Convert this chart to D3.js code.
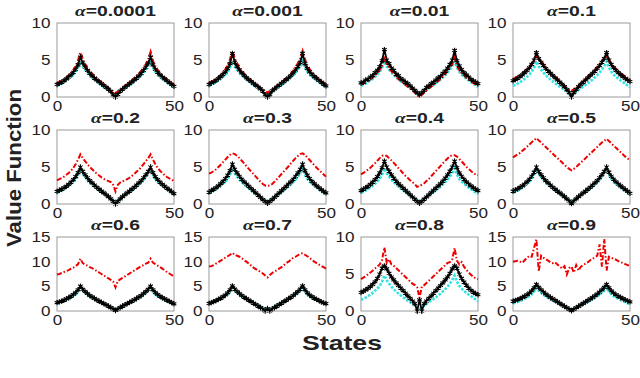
<!DOCTYPE html>
<html><head><meta charset="utf-8">
<script src="https://cdn.jsdelivr.net/npm/d3@7"></script>
<style>body{margin:0;background:#fff}</style>
</head><body>
<svg id="c" width="640" height="378"></svg>
<script>
const states = [0,1,2,3,4,5,6,7,8,9,10,11,12,13,14,15,16,17,18,19,20,21,22,23,24,25,26,27,28,29,30,31,32,33,34,35,36,37,38,39,40,41,42,43,44,45,46,47,48,49,50];
const alphas = ["0.0001","0.001","0.01","0.1","0.2","0.3","0.4","0.5","0.6","0.7","0.8","0.9"];
const yMaxes = [10,10,10,10,10,10,10,10,15,15,10,15];
const xTicks = [0,50];
const yTicks10 = [0,5,10];
const yTicks15 = [0,5,10,15];

const trueV = [1.50,1.65,1.82,2.00,2.22,2.46,2.73,3.04,3.40,3.95,
 4.80,4.15,3.70,3.30,2.95,2.65,2.35,2.10,1.85,1.62,
 1.40,1.18,0.95,0.70,0.45,0.30,0.45,0.70,0.95,1.18,
 1.40,1.62,1.85,2.10,2.35,2.65,2.95,3.30,3.70,4.15,
 4.80,3.95,3.40,3.04,2.73,2.46,2.22,2.00,1.80,1.55,1.30];

const black0001 = [1.70,1.85,2.00,2.20,2.45,2.70,3.00,3.35,3.75,4.35,
 5.40,4.60,4.05,3.60,3.20,2.85,2.55,2.30,2.05,1.80,
 1.55,1.30,1.05,0.75,0.30,0.00,0.35,0.80,1.05,1.30,
 1.55,1.80,2.05,2.30,2.55,2.85,3.20,3.60,4.05,4.60,
 5.40,4.35,3.75,3.35,3.00,2.70,2.45,2.20,1.95,1.70,1.45];
const red0001 = [1.80,2.00,2.15,2.35,2.60,2.90,3.20,3.60,4.10,4.80,
 6.00,5.00,4.40,3.90,3.45,3.10,2.80,2.50,2.20,1.95,
 1.70,1.45,1.20,0.95,0.70,0.50,0.70,0.95,1.20,1.45,
 1.70,1.95,2.20,2.50,2.80,3.10,3.45,3.90,4.40,5.00,
 6.00,4.80,4.10,3.60,3.20,2.90,2.60,2.35,2.10,1.85,1.60];

const black001 = [1.70,1.90,2.05,2.25,2.50,2.75,3.05,3.40,3.85,4.50,
 5.90,4.70,4.10,3.65,3.25,2.90,2.60,2.35,2.10,1.85,
 1.60,1.35,1.10,0.80,0.30,0.00,0.30,0.85,1.10,1.35,
 1.60,1.85,2.10,2.35,2.60,2.90,3.25,3.65,4.10,4.70,
 5.90,4.50,3.85,3.40,3.05,2.75,2.50,2.25,2.00,1.75,1.50];
const red001 = [1.80,2.00,2.20,2.40,2.65,2.95,3.30,3.70,4.20,5.00,
 6.10,5.10,4.50,3.95,3.50,3.10,2.80,2.50,2.20,1.95,
 1.70,1.45,1.20,0.95,0.75,0.60,0.75,0.95,1.20,1.45,
 1.70,1.95,2.20,2.50,2.80,3.10,3.50,3.95,4.50,5.10,
 6.10,5.00,4.20,3.70,3.30,2.95,2.65,2.40,2.15,1.90,1.65];

const black01 = [1.90,2.00,2.30,2.40,2.70,2.90,3.30,3.60,4.10,4.90,
 6.40,5.00,4.50,3.90,3.60,3.10,2.90,2.50,2.30,2.00,
 1.80,1.50,1.20,0.90,0.60,0.30,0.60,0.90,1.30,1.50,
 1.80,2.00,2.30,2.60,2.80,3.20,3.50,3.90,4.40,5.00,
 6.30,4.90,4.20,3.70,3.30,3.00,2.70,2.40,2.20,2.00,1.80];
const red01 = [1.70,1.85,2.00,2.20,2.40,2.65,2.95,3.30,3.70,4.30,
 5.50,4.50,4.00,3.55,3.15,2.80,2.50,2.20,1.95,1.70,
 1.45,1.20,0.95,0.65,0.35,0.05,0.35,0.65,0.95,1.20,
 1.45,1.70,1.95,2.20,2.50,2.80,3.15,3.55,4.00,4.50,
 5.50,4.30,3.70,3.30,2.95,2.65,2.40,2.20,1.95,1.75,1.55];

const black1 = [2.20,2.35,2.55,2.75,3.00,3.30,3.60,3.95,4.40,5.00,
 6.00,5.20,4.70,4.25,3.85,3.50,3.20,2.90,2.60,2.30,
 2.00,1.70,1.40,1.00,0.60,0.00,0.60,1.00,1.40,1.70,
 2.00,2.30,2.60,2.90,3.20,3.50,3.85,4.25,4.70,5.20,
 6.00,5.00,4.40,3.95,3.60,3.30,3.00,2.75,2.50,2.30,2.10];
const red1 = [2.40,2.55,2.75,2.95,3.20,3.45,3.75,4.10,4.50,5.00,
 5.60,5.20,4.80,4.40,4.00,3.60,3.30,3.00,2.70,2.40,
 2.10,1.80,1.50,1.20,0.95,0.80,1.00,1.25,1.50,1.80,
 2.10,2.40,2.70,3.00,3.30,3.60,4.00,4.40,4.80,5.20,
 5.60,5.00,4.50,4.10,3.75,3.45,3.20,2.95,2.70,2.50,2.30];

const black2 = [1.70,1.85,2.00,2.20,2.40,2.65,2.95,3.30,3.70,4.25,
 5.00,4.40,3.95,3.55,3.15,2.85,2.55,2.25,2.00,1.75,
 1.50,1.25,1.00,0.70,0.35,0.00,0.35,0.70,1.00,1.25,
 1.50,1.75,2.00,2.25,2.55,2.85,3.15,3.55,3.95,4.40,
 5.00,4.25,3.70,3.30,2.95,2.65,2.40,2.15,1.90,1.65,1.40];
const red2 = [3.20,3.35,3.50,3.70,3.95,4.20,4.50,4.90,5.40,6.00,
 6.70,6.20,5.80,5.40,5.00,4.70,4.40,4.10,3.85,3.60,
 3.40,3.25,3.10,2.95,2.60,1.70,2.60,2.90,3.05,3.20,
 3.35,3.55,3.80,4.05,4.35,4.65,5.00,5.40,5.80,6.20,
 6.70,6.00,5.40,4.90,4.50,4.20,3.90,3.65,3.45,3.30,3.10];

const black3 = [1.60,1.80,2.00,2.20,2.45,2.75,3.05,3.45,3.90,4.50,
 5.40,4.70,4.20,3.75,3.35,3.00,2.70,2.40,2.10,1.80,
 1.50,1.20,0.90,0.60,0.35,0.10,0.35,0.60,0.90,1.20,
 1.50,1.80,2.10,2.40,2.70,3.00,3.35,3.75,4.20,4.70,
 5.40,4.50,3.90,3.45,3.05,2.75,2.45,2.20,1.95,1.70,1.50];
const red3 = [4.10,4.25,4.45,4.70,5.00,5.30,5.65,6.00,6.35,6.65,
 6.85,6.75,6.50,6.20,5.85,5.50,5.10,4.75,4.40,4.05,
 3.70,3.35,3.00,2.70,2.50,2.45,2.50,2.70,3.00,3.35,
 3.70,4.05,4.40,4.75,5.10,5.50,5.85,6.20,6.50,6.75,
 6.85,6.65,6.30,5.95,5.60,5.25,4.90,4.60,4.30,4.00,3.70];

const black4 = [1.80,2.00,2.20,2.40,2.65,2.95,3.30,3.70,4.20,4.90,
 5.80,5.00,4.45,3.95,3.50,3.10,2.75,2.45,2.15,1.85,
 1.55,1.25,0.95,0.65,0.35,0.10,0.35,0.65,0.95,1.25,
 1.55,1.85,2.15,2.45,2.75,3.10,3.50,3.95,4.45,5.00,
 5.80,4.90,4.20,3.75,3.35,3.00,2.70,2.45,2.20,2.00,1.80];
const red4 = [4.00,4.20,4.40,4.65,4.90,5.20,5.50,5.85,6.20,6.50,
 6.60,6.50,6.20,5.90,5.55,5.20,4.85,4.50,4.15,3.80,
 3.50,3.20,2.95,2.70,2.30,2.50,2.60,2.80,3.10,3.40,
 3.75,4.10,4.45,4.80,5.15,5.50,5.85,6.15,6.45,6.60,
 6.60,6.40,6.10,5.75,5.40,5.05,4.75,4.45,4.20,4.00,3.90];

const black5 = [1.75,1.90,2.05,2.25,2.45,2.70,3.00,3.35,3.75,4.30,
 5.00,4.40,3.95,3.55,3.15,2.85,2.55,2.25,2.00,1.75,
 1.50,1.25,1.00,0.70,0.40,0.05,0.40,0.70,1.00,1.25,
 1.50,1.75,2.00,2.25,2.55,2.85,3.15,3.55,3.95,4.40,
 5.00,4.30,3.75,3.35,3.00,2.70,2.45,2.20,1.95,1.70,1.45];
const red5 = [6.30,6.50,6.70,6.90,7.20,7.45,7.75,8.05,8.35,8.60,
 8.90,8.60,8.30,8.00,7.70,7.40,7.10,6.80,6.50,6.20,
 5.90,5.60,5.30,5.00,4.75,4.55,4.75,5.00,5.30,5.60,
 5.90,6.20,6.50,6.80,7.10,7.40,7.70,8.00,8.30,8.55,
 8.80,8.50,8.20,7.90,7.60,7.30,7.00,6.70,6.40,6.15,5.90];

const black6 = [1.70,1.85,2.00,2.20,2.45,2.70,3.00,3.35,3.75,4.30,
 5.05,4.40,3.95,3.55,3.15,2.85,2.55,2.25,2.00,1.75,
 1.50,1.25,1.00,0.70,0.40,0.10,0.40,0.70,1.00,1.25,
 1.50,1.75,2.00,2.25,2.55,2.85,3.15,3.55,3.95,4.40,
 5.05,4.30,3.75,3.35,3.00,2.70,2.45,2.20,1.95,1.70,1.45];
const red6 = [7.40,7.50,7.70,7.90,8.10,8.30,8.60,8.80,9.10,9.50,
 10.60,9.70,9.40,9.20,8.90,8.70,8.40,8.10,7.80,7.50,
 7.20,6.90,6.60,6.30,6.00,4.80,6.10,6.40,6.70,7.00,
 7.30,7.60,7.90,8.20,8.50,8.80,9.10,9.30,9.60,9.80,
 10.60,9.80,9.50,9.20,8.90,8.60,8.20,7.90,7.60,7.30,7.00];

const black7 = [1.55,1.70,1.90,2.10,2.35,2.60,2.90,3.25,3.70,4.30,
 5.10,4.45,3.95,3.55,3.15,2.80,2.50,2.20,1.90,1.60,
 1.30,1.00,0.70,0.40,0.00,0.50,0.00,0.40,0.70,1.00,
 1.30,1.60,1.90,2.20,2.50,2.80,3.15,3.55,3.95,4.45,
 5.10,4.30,3.70,3.25,2.90,2.60,2.35,2.10,1.85,1.65,1.50];
const red7 = [9.00,9.10,9.30,9.60,9.90,10.20,10.50,10.80,11.10,11.40,
 11.80,11.40,11.20,11.00,10.70,10.30,10.00,9.60,9.20,8.80,
 8.50,8.20,7.90,7.60,7.20,6.80,7.30,7.70,8.00,8.30,
 8.60,8.90,9.30,9.70,10.00,10.40,10.80,11.00,11.30,11.60,
 11.70,11.40,11.10,10.80,10.40,10.00,9.70,9.40,9.10,8.90,8.60];

const black8 = [2.50,2.65,2.85,3.05,3.30,3.60,3.95,4.40,5.00,5.80,
 6.10,5.70,5.10,4.60,4.20,3.80,3.45,3.10,2.75,2.40,
 2.05,1.70,1.35,1.00,0.00,1.50,0.00,1.00,1.35,1.70,
 2.05,2.40,2.75,3.10,3.45,3.80,4.20,4.60,5.10,5.70,
 6.10,5.80,5.00,4.40,3.90,3.50,3.10,2.80,2.55,2.35,2.20];
const red8 = [4.30,4.50,4.70,4.95,5.20,5.45,5.75,6.00,6.30,6.90,
 8.60,6.50,7.00,6.30,6.10,5.80,5.50,5.20,4.90,4.60,
 4.30,4.00,3.70,3.50,3.20,1.80,3.30,3.50,3.80,4.10,
 4.40,4.70,5.00,5.30,5.60,5.90,6.20,6.50,6.60,7.00,
 8.50,6.80,6.30,6.60,6.00,5.60,5.20,4.90,4.60,4.40,4.30];

const black9 = [2.00,2.15,2.30,2.50,2.75,3.00,3.30,3.65,4.10,4.70,
 5.40,4.80,4.30,3.85,3.45,3.10,2.75,2.45,2.15,1.85,
 1.55,1.25,0.95,0.65,0.35,0.05,0.35,0.65,0.95,1.25,
 1.55,1.85,2.15,2.45,2.75,3.10,3.45,3.85,4.30,4.80,
 5.40,4.70,4.10,3.65,3.30,3.00,2.75,2.50,2.25,2.05,1.85];
const red9 = [10.00,10.10,10.20,10.00,9.80,10.30,10.80,11.20,11.00,12.80,
 14.50,8.00,11.20,10.80,10.50,10.20,9.90,9.70,9.90,9.40,
 9.00,8.60,9.10,7.40,8.70,9.00,7.80,9.30,8.20,9.00,
 9.30,9.60,9.90,10.30,10.60,10.90,11.20,13.50,9.00,14.60,
 8.20,11.00,10.80,10.60,10.40,10.10,9.90,9.70,9.50,9.30,9.10];

const blackSeries = [black0001,black001,black01,black1,black2,black3,black4,black5,black6,black7,black8,black9];
const redSeries = [red0001,red001,red01,red1,red2,red3,red4,red5,red6,red7,red8,red9];

// layout
const colLeft = [57, 209, 361, 513];
const rowTop = [23, 130, 237];
const W = 117, H = 74;
const FONT = "'Liberation Sans', Arial, Helvetica, sans-serif";
const TXT = "#222";

const svg = d3.select("#c");

alphas.forEach((a, i) => {
  const r = Math.floor(i / 4), c = i % 4;
  const x0 = colLeft[c], y0 = rowTop[r];
  const ymax = yMaxes[i];
  const xs = d3.scaleLinear().domain([0, 50]).range([x0, x0 + W]);
  const ys = d3.scaleLinear().domain([0, ymax]).range([y0 + H, y0]);
  const g = svg.append("g");

  g.append("rect").attr("x", x0).attr("y", y0).attr("width", W).attr("height", H)
    .attr("fill", "none").attr("stroke", "#9a9a9a").attr("stroke-width", 1);

  const ya = g.append("g").attr("transform", `translate(${x0},0)`)
    .call(d3.axisLeft(ys).tickValues(ymax === 15 ? yTicks15 : yTicks10).tickSize(0).tickFormat(d3.format("d")));
  ya.select(".domain").remove();
  ya.selectAll("text").attr("x", 0).attr("text-anchor", "end")
    .attr("transform", "translate(-6.5,0) scale(1.22,1)")
    .style("font-family", FONT).style("font-size", "14px").style("fill", TXT);

  const xa = g.append("g").attr("transform", `translate(0,${y0 + H})`)
    .call(d3.axisBottom(xs).tickValues(xTicks).tickSize(0).tickPadding(4).tickFormat(d3.format("d")));
  xa.select(".domain").remove();
  xa.selectAll("text").attr("transform", "scale(1.22,1)")
    .style("font-family", FONT).style("font-size", "14px").style("fill", TXT);

  const line = d3.line().x((d, k) => xs(states[k])).y(d => ys(d));

  g.append("path").datum(trueV).attr("d", line).attr("fill", "none")
    .attr("stroke", "#2fe3e3").attr("stroke-width", 2.6).attr("stroke-dasharray", "2.5,1.5");

  g.append("path").datum(redSeries[i]).attr("d", line).attr("fill", "none")
    .attr("stroke", "#ee0000").attr("stroke-width", r === 0 ? 2.6 : 2).attr("stroke-dasharray", "5,2,1.5,2");

  g.append("path").datum(blackSeries[i]).attr("d", line).attr("fill", "none")
    .attr("stroke", "#000").attr("stroke-width", 1.8);
  const sym = d3.symbol().type(d3.symbolAsterisk).size(20);
  g.selectAll("path.mk").data(blackSeries[i]).enter().append("path").attr("class", "mk")
    .attr("d", sym).attr("transform", (d, k) => `translate(${xs(states[k])},${ys(d)})`)
    .attr("fill", "none").attr("stroke", "#000").attr("stroke-width", 1.1);

  const t = g.append("text").attr("text-anchor", "middle")
    .attr("transform", `translate(${x0 + W / 2},${y0 - 7.5}) scale(1.38,1)`)
    .style("font-family", FONT).style("font-size", "14px").style("font-weight", "bold").style("fill", TXT);
  t.append("tspan").text("α").style("font-family", "'Liberation Serif', 'DejaVu Serif', serif").style("font-style", "italic");
  t.append("tspan").text("=" + a);
});

svg.append("text").text("Value Function").attr("text-anchor", "middle")
  .attr("transform", "translate(21,168) rotate(-90) scale(1.14,1)")
  .style("font-family", FONT).style("font-size", "19.5px").style("font-weight", "bold").style("fill", TXT);
svg.append("text").text("States").attr("text-anchor", "middle")
  .attr("transform", "translate(342,350) scale(1.27,1)")
  .style("font-family", FONT).style("font-size", "21px").style("font-weight", "bold").style("fill", TXT);
</script>
</body></html>
